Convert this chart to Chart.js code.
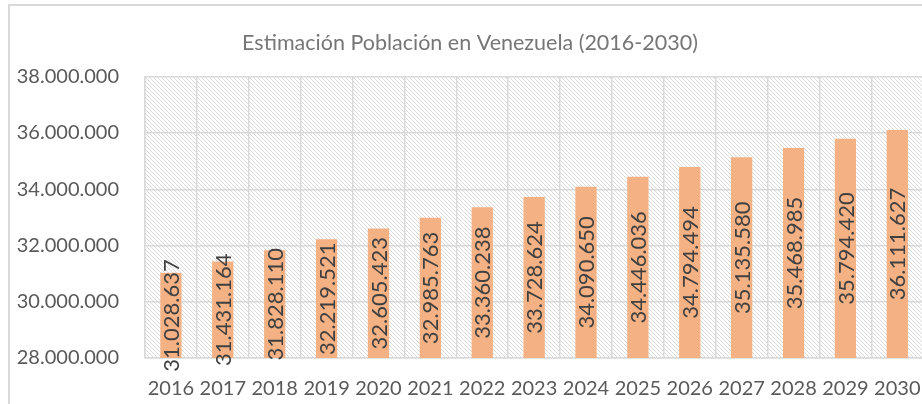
<!DOCTYPE html>
<html>
<head>
  <title>Estimación Población en Venezuela</title>
  <script src="https://cdn.jsdelivr.net/npm/chart.js"></script>
  <style>
    html, body { margin: 0; padding: 0; background: #fff; overflow: hidden; }
    #frame { position: absolute; left: 8px; top: 4px; width: 960px; height: 460px; border: 2px solid #d9d9d9; box-sizing: border-box; }
    #wrap { position: absolute; left: 0; top: 0; width: 940px; height: 404px; }
  </style>
</head>
<body>
<div id="frame"></div>
<div id="wrap"><canvas id="popChart" width="940" height="404"></canvas></div>

<script>
  const years = ['2016', '2017', '2018', '2019', '2020', '2021', '2022', '2023', '2024', '2025', '2026', '2027', '2028', '2029', '2030'];
  const population = [31028637, 31431164, 31828110, 32219521, 32605423, 32985763, 33360238, 33728624, 34090650, 34446036, 34794494, 35135580, 35468985, 35794420, 36111627];
  const yMin = 28000000;
  const yMax = 38000000;
  const yStep = 2000000;

  const fmt = v => String(v).replace(/\B(?=(\d{3})+(?!\d))/g, '.');

  // hatched plot background, like the excel pattern fill
  function hatch(ctx) {
    const c = document.createElement('canvas');
    c.width = 4; c.height = 4;
    const g = c.getContext('2d');
    g.fillStyle = '#fff';
    g.fillRect(0, 0, 4, 4);
    g.fillStyle = '#dadada';
    for (let i = 0; i < 4; i++) g.fillRect(i, i, 1, 1);
    return ctx.createPattern(c, 'repeat');
  }

  const plotBg = {
    id: 'plotBg',
    beforeDraw(chart) {
      const { ctx, chartArea: a } = chart;
      ctx.save();
      ctx.fillStyle = hatch(ctx);
      ctx.fillRect(a.left, a.top, a.right - a.left, a.bottom - a.top);
      ctx.restore();
    }
  };

  // values written vertically, centred in each bar
  const barLabels = {
    id: 'barLabels',
    afterDraw(chart) {
      const { ctx } = chart;
      const xs = chart.scales.x, ys = chart.scales.y;
      ctx.save();
      ctx.font = '22px Lato';
      ctx.fillStyle = '#404040';
      ctx.textAlign = 'center';
      ctx.textBaseline = 'middle';
      population.forEach((v, i) => {
        const x = xs.getPixelForValue(i);
        const top = ys.getPixelForValue(v);
        const cy = (top + ys.bottom) / 2;
        ctx.save();
        ctx.translate(x + 1, cy);
        ctx.rotate(-Math.PI / 2);
        ctx.fillText(fmt(v), 0, 0);
        ctx.restore();
      });
      ctx.restore();
    }
  };

  new Chart(document.getElementById('popChart'), {
    type: 'bar',
    data: {
      labels: years,
      datasets: [{
        data: population,
        backgroundColor: '#f4b183',
        borderWidth: 0,
        barPercentage: 0.41,
        categoryPercentage: 1
      }]
    },
    options: {
      responsive: false,
      animation: false,
      layout: { padding: 0 },
      plugins: {
        legend: { display: false },
        tooltip: { enabled: false },
        title: {
          display: true,
          text: 'Estimación Población en Venezuela (2016-2030)',
          color: '#767676',
          font: { family: 'Lato', size: 21.5, weight: 'normal' },
          padding: { top: 30, bottom: 21 }
        }
      },
      scales: {
        x: {
          grid: { color: '#d9d9d9', lineWidth: 1.5, drawTicks: false, offset: true },
          border: { color: '#d9d9d9', width: 1.5 },
          ticks: { color: '#595959', font: { family: 'Lato', size: 20 }, padding: 19, maxRotation: 0, autoSkip: false },
          afterFit(s) { s.height = 46; }
        },
        y: {
          min: yMin,
          max: yMax,
          grid: { color: '#d9d9d9', lineWidth: 1.5, drawTicks: false },
          border: { color: '#d9d9d9', width: 1.5 },
          ticks: { stepSize: yStep, color: '#595959', font: { family: 'Lato', size: 20 }, padding: 26, callback: v => fmt(v) },
          afterFit(s) { s.width = 145; }
        },
        // empty right strip so the title centres over the whole chart box
        pad: {
          type: 'linear',
          position: 'right',
          grid: { display: false },
          border: { display: false },
          ticks: { display: false },
          afterFit(s) { s.width = 15; }
        }
      }
    },
    plugins: [plotBg, barLabels]
  });
</script>
</body>
</html>
